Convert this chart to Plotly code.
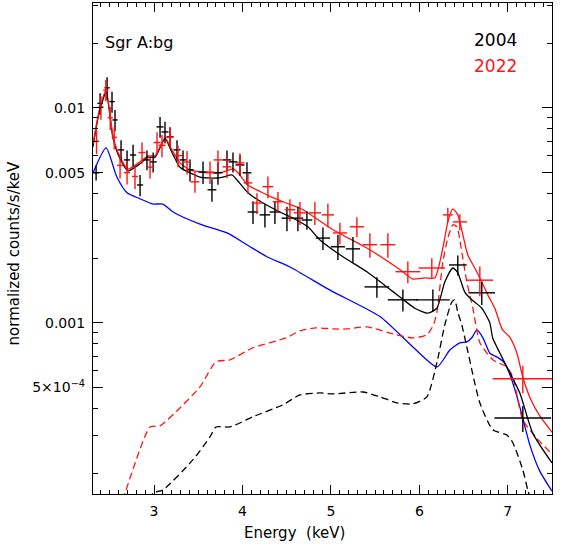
import plotly.graph_objects as go

# 2004 spectrum (black crosses)
e04 = [2.345, 2.39, 2.469, 2.525, 2.559, 2.627, 2.695, 2.763, 2.842, 2.92, 2.99,
       3.068, 3.124, 3.181, 3.26, 3.328, 3.407, 3.554, 3.655, 3.723, 3.825, 3.893,
       3.972, 4.051, 4.119, 4.254, 4.367, 4.503, 4.627, 4.729, 4.91, 5.079, 5.249,
       5.52, 5.814, 6.153, 6.435, 6.706, 7.17]
f04 = [0.00499, 0.0105, 0.0124, 0.0107, 0.00879, 0.00638, 0.00573, 0.00604, 0.00438, 0.00573, 0.00561,
       0.00816, 0.00773, 0.00733, 0.00638, 0.00573, 0.00515, 0.00503, 0.00416, 0.00499, 0.00573, 0.00561,
       0.00543, 0.00499, 0.00328, 0.00318, 0.00328, 0.00307, 0.00307, 0.00301, 0.00248, 0.00226, 0.00221,
       0.00147, 0.00128, 0.00128, 0.00186, 0.00138, 0.000361]
de04 = [0.035, 0.03, 0.03, 0.03, 0.03, 0.035, 0.035, 0.035, 0.035, 0.04, 0.04,
        0.04, 0.04, 0.04, 0.04, 0.04, 0.04, 0.05, 0.05, 0.05, 0.05, 0.05,
        0.05, 0.05, 0.06, 0.06, 0.06, 0.06, 0.06, 0.06, 0.08, 0.08, 0.08,
        0.14, 0.17, 0.19, 0.1, 0.15, 0.32]
df04 = [0.0004, 0.0012, 0.0015, 0.0012, 0.001, 0.0007, 0.0006, 0.0007, 0.0005, 0.0006, 0.0006,
        0.0009, 0.0009, 0.0008, 0.0007, 0.0006, 0.0006, 0.0006, 0.0005, 0.0006, 0.0006, 0.0006,
        0.0006, 0.0006, 0.0004, 0.0004, 0.0004, 0.0004, 0.0004, 0.0003, 0.0003, 0.0003, 0.0003,
        0.00016, 0.00015, 0.00015, 0.0002, 0.00017, 0.00005]

# 2022 spectrum (red crosses)
e22 = [2.35, 2.40, 2.455, 2.505, 2.55, 2.616, 2.695, 2.785, 2.864, 2.955, 3.034,
       3.09, 3.181, 3.271, 3.373, 3.463, 3.633, 3.723, 3.825, 3.972, 4.062, 4.164,
       4.288, 4.401, 4.537, 4.65, 4.819, 4.966, 5.102, 5.294, 5.441, 5.644, 5.87,
       6.141, 6.322, 6.458, 6.684, 7.17]
f22 = [0.0070, 0.0101, 0.0121, 0.0090, 0.0073, 0.0054, 0.0050, 0.0048, 0.0062, 0.0053, 0.0069,
       0.0067, 0.0073, 0.0060, 0.0056, 0.00453, 0.00503, 0.00573, 0.00532, 0.00555, 0.00448, 0.00361,
       0.0043, 0.00366, 0.00336, 0.00325, 0.00325, 0.00318, 0.00262, 0.0028, 0.00231, 0.00231, 0.00173,
       0.0018, 0.00318, 0.00295, 0.00158, 0.00055]
de22 = [0.03, 0.03, 0.03, 0.03, 0.03, 0.035, 0.035, 0.035, 0.04, 0.04, 0.04,
        0.04, 0.04, 0.045, 0.045, 0.05, 0.05, 0.05, 0.05, 0.05, 0.05, 0.06,
        0.06, 0.06, 0.06, 0.07, 0.07, 0.07, 0.08, 0.08, 0.08, 0.085, 0.14,
        0.15, 0.056, 0.08, 0.15, 0.34]
df22 = [0.0009, 0.0013, 0.0014, 0.0011, 0.0009, 0.0007, 0.0006, 0.0006, 0.0007, 0.0006, 0.0008,
        0.0008, 0.0008, 0.0007, 0.0007, 0.0005, 0.0006, 0.0006, 0.0006, 0.0006, 0.0005, 0.0004,
        0.0005, 0.0004, 0.0004, 0.0004, 0.0004, 0.0004, 0.0003, 0.0003, 0.0003, 0.0003, 0.0002,
        0.0002, 0.00025, 0.00025, 0.00025, 0.00008]

# total models
m04_e = [2.31, 2.38, 2.458, 2.537, 2.616, 2.706, 2.842, 2.932, 3.011, 3.124, 3.203, 3.294,
         3.407, 3.52, 3.712, 3.78, 3.881, 3.938, 4.062, 4.232, 4.424, 4.571, 4.74, 4.876,
         5.136, 5.407, 5.633, 5.78, 5.949, 6.096, 6.198, 6.288, 6.379, 6.435, 6.514, 6.593,
         6.706, 6.797, 6.83, 6.99, 7.136, 7.282, 7.5]
m04_f = [0.0066, 0.0095, 0.0118, 0.0072, 0.0058, 0.0051, 0.0055, 0.0059, 0.0059, 0.0072, 0.0062, 0.0053,
         0.00499, 0.00477, 0.00472, 0.00477, 0.00488, 0.00462, 0.00403, 0.00361, 0.00328, 0.00307, 0.0028, 0.00243,
         0.00203, 0.00173, 0.00147, 0.00132, 0.00117, 0.00111, 0.00117, 0.00155, 0.0018, 0.00171, 0.00139, 0.00128,
         0.00117, 0.001, 0.00085, 0.000624, 0.000472, 0.000307, 0.000223]
m22_e = [2.31, 2.38, 2.458, 2.537, 2.616, 2.706, 2.842, 2.932, 3.011, 3.124, 3.203, 3.294,
         3.407, 3.599, 3.78, 3.893, 3.949, 4.062, 4.277, 4.458, 4.684, 5.023, 5.407, 5.78,
         5.927, 6.062, 6.175, 6.266, 6.322, 6.379, 6.435, 6.492, 6.548, 6.627, 6.706, 6.774,
         6.853, 6.94, 7.02, 7.10, 7.17, 7.25, 7.36, 7.5]
m22_f = [0.0068, 0.0097, 0.0121, 0.00733, 0.00591, 0.0052, 0.00561, 0.00598, 0.00598, 0.00725, 0.00638, 0.00555,
         0.00515, 0.00499, 0.00503, 0.0052, 0.00499, 0.00438, 0.00394, 0.00366, 0.00336, 0.00271, 0.00223, 0.00177,
         0.0016, 0.00162, 0.00162, 0.00223, 0.00295, 0.00339, 0.00318, 0.00257, 0.00207, 0.0018, 0.00155, 0.00135,
         0.00117, 0.00093, 0.00086, 0.00073, 0.00056, 0.00045, 0.00037, 0.00031]

# line components (dashed)
l04_e = [2.95, 2.99, 3.10, 3.441, 3.633, 3.70, 3.859, 4.119, 4.458, 4.65, 4.876, 5.023, 5.362,
         5.554, 5.746, 5.927, 6.085, 6.198, 6.288, 6.367, 6.40, 6.435, 6.48, 6.537, 6.684,
         6.831, 6.989, 7.057, 7.17, 7.226, 7.26]
l04_f = [0.000150, 0.000162, 0.000167, 0.000231, 0.000295, 0.000328, 0.000328, 0.000366, 0.000416, 0.000462, 0.000472, 0.000467, 0.000477,
         0.000453, 0.000425, 0.00042, 0.000453, 0.000652, 0.00098, 0.00125, 0.00128, 0.00112, 0.00098, 0.000773, 0.000425,
         0.000318, 0.000301, 0.000277, 0.000207, 0.000167, 0.000150]
l22_e = [2.64, 2.672, 2.955, 3.068, 3.249, 3.52, 3.70, 3.859, 4.119, 4.492, 4.65, 4.831, 5.023,
         5.18, 5.407, 5.667, 5.927, 6.085, 6.16, 6.198, 6.266, 6.322, 6.379, 6.424, 6.48, 6.537,
         6.605, 6.684, 6.831, 6.989, 7.057, 7.17, 7.33, 7.5]
l22_f = [0.000150, 0.000162, 0.000328, 0.000332, 0.000386, 0.000504, 0.000659, 0.000673, 0.000766, 0.000851, 0.000918, 0.000948, 0.000937,
         0.000937, 0.000958, 0.000897, 0.000851, 0.00088, 0.00098, 0.00112, 0.00192, 0.00248, 0.00286, 0.0028, 0.00214, 0.00155,
         0.00117, 0.00081, 0.000673, 0.000624, 0.000561, 0.000354, 0.00029, 0.000245]

# continuum (blue)
c_e = [2.31, 2.458, 2.58, 2.695, 2.84, 2.99, 3.10, 3.215, 3.52, 3.825, 4.05, 4.277, 4.537,
       4.99, 5.554, 5.927, 6.20, 6.345, 6.458, 6.537, 6.60, 6.65, 6.72, 6.80, 6.876, 6.95,
       7.02, 7.10, 7.17, 7.25, 7.36, 7.5]
c_f = [0.00499, 0.00652, 0.00477, 0.00403, 0.00378, 0.00357, 0.00357, 0.00328, 0.00288, 0.00262, 0.00231, 0.00203, 0.00182,
       0.00142, 0.00107, 0.000773, 0.000624, 0.000748, 0.000807, 0.000816, 0.00086, 0.000927, 0.00085, 0.00072, 0.000695, 0.00066,
       0.00058, 0.00046, 0.00036, 0.00027, 0.000205, 0.000165]

RED = "rgb(255,20,20)"
XR = [2.31, 7.5]
YR = [-3.796, -1.512]
fig = go.Figure()

fig.add_trace(go.Scatter(x=c_e, y=c_f, mode="lines", line=dict(color="blue", width=1.3, shape="spline", smoothing=0.6)))
fig.add_trace(go.Scatter(x=l04_e, y=l04_f, mode="lines", line=dict(color="black", width=1.3, dash="7px,4px", shape="spline", smoothing=0.6)))
fig.add_trace(go.Scatter(x=l22_e, y=l22_f, mode="lines", line=dict(color=RED, width=1.3, dash="7px,4px", shape="spline", smoothing=0.6)))
fig.add_trace(go.Scatter(x=m04_e, y=m04_f, mode="lines", line=dict(color="black", width=1.3, shape="spline", smoothing=0.6)))
fig.add_trace(go.Scatter(x=m22_e, y=m22_f, mode="lines", line=dict(color=RED, width=1.3, shape="spline", smoothing=0.6)))

for e, f, de, dfl, col in [(e04, f04, de04, df04, "black"), (e22, f22, de22, df22, RED)]:
    fig.add_trace(go.Scatter(
        x=e, y=f, mode="markers", marker=dict(size=1, color=col, opacity=0),
        error_x=dict(type="data", array=de, color=col, thickness=1.4, width=0),
        error_y=dict(type="data", array=dfl, color=col, thickness=1.4, width=0),
    ))

# invisible trace so the top/right tick axes get drawn
fig.add_trace(go.Scatter(x=[5], y=[1e-3], xaxis="x2", yaxis="y2", mode="markers",
                         marker=dict(opacity=0), hoverinfo="skip"))

font = "DejaVu Sans"
ymajor = [5e-4, 1e-3, 5e-3, 1e-2]
ylabels = ["5×10<sup>−4</sup>", "0.001", "0.005", "0.01"]
yminor = [2e-4, 3e-4, 4e-4, 6e-4, 7e-4, 8e-4, 9e-4,
          2e-3, 3e-3, 4e-3, 6e-3, 7e-3, 8e-3, 9e-3, 2e-2, 3e-2]

xstyle = dict(range=XR, tickmode="linear", tick0=0, dtick=1,
              ticks="inside", ticklen=9, tickwidth=1, tickcolor="black",
              showgrid=False, zeroline=False,
              minor=dict(dtick=0.1, tick0=0, ticks="inside", ticklen=4, tickcolor="black", showgrid=False))
ystyle = dict(type="log", range=YR, tickmode="array", tickvals=ymajor,
              ticks="inside", ticklen=10, tickwidth=1, tickcolor="black",
              showgrid=False, zeroline=False,
              minor=dict(tickmode="array", tickvals=yminor, ticks="inside", ticklen=5, tickcolor="black", showgrid=False))

fig.update_layout(
    width=574, height=551,
    margin=dict(l=93, r=22, t=3, b=57),
    paper_bgcolor="white", plot_bgcolor="white",
    showlegend=False,
    font=dict(family=font, size=14, color="black"),
    xaxis=dict(**xstyle, showline=True, linecolor="black", linewidth=1.2,
               tickfont=dict(size=14), ticklabelstandoff=4),
    yaxis=dict(**ystyle, ticktext=ylabels, showline=True, linecolor="black", linewidth=1.2,
               tickfont=dict(size=14), ticklabelstandoff=4),
    xaxis2=dict(**xstyle, overlaying="x", side="top", showticklabels=False,
                showline=True, linecolor="black", linewidth=1.2),
    yaxis2=dict(**ystyle, overlaying="y", side="right", showticklabels=False,
                showline=True, linecolor="black", linewidth=1.2),
    annotations=[
        dict(text="Energy  (keV)", x=(294 - 93) / 459, y=-0.08, xref="paper", yref="paper",
             showarrow=False, font=dict(size=15), xanchor="center", yanchor="middle"),
        dict(text="normalized counts/s/keV", x=-0.172, y=0.49, xref="paper", yref="paper",
             showarrow=False, font=dict(size=15), textangle=-90, xanchor="center", yanchor="middle"),
        dict(text="Sgr A:bg", x=0.021, y=0.92, xref="paper", yref="paper",
             showarrow=False, font=dict(size=16), xanchor="left", yanchor="middle"),
        dict(text="2004", x=0.928, y=0.925, xref="paper", yref="paper",
             showarrow=False, font=dict(size=17), xanchor="right", yanchor="middle"),
        dict(text="2022", x=0.928, y=0.872, xref="paper", yref="paper",
             showarrow=False, font=dict(size=17, color=RED), xanchor="right", yanchor="middle"),
    ],
)

fig.write_html("out.html", config={"displayModeBar": False},
               post_script="document.body.style.margin='0';")
